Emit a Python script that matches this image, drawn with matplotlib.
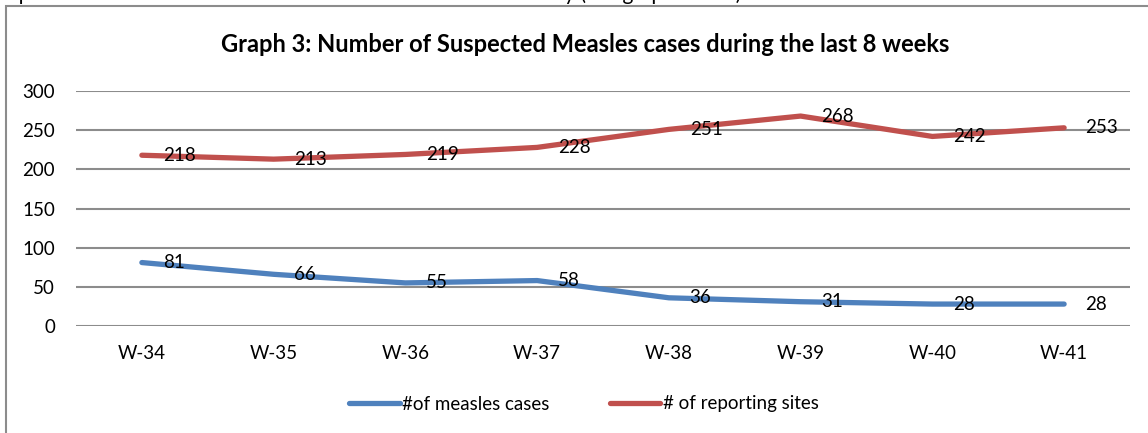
import matplotlib
matplotlib.use("Agg")
import matplotlib.pyplot as plt
from matplotlib.patches import Rectangle

weeks = ["W-34", "W-35", "W-36", "W-37", "W-38", "W-39", "W-40", "W-41"]
measles_cases = [81, 66, 55, 58, 36, 31, 28, 28]
reporting_sites = [218, 213, 219, 228, 251, 268, 242, 253]
yticks = [0, 50, 100, 150, 200, 250, 300]

plt.rcParams['font.family'] = ['Lato', 'DejaVu Sans']

W, H = 1148, 433
fig = plt.figure(figsize=(W / 100, H / 100), dpi=100)
fig.patch.set_facecolor('white')

# outer chart border (extends off the right/bottom edge)
fig.patches.append(Rectangle((6 / W, -0.2), 1.2, 1.2 - 6 / H, transform=fig.transFigure,
                             fill=False, edgecolor='#8c8c8c', linewidth=1.5))
# clipped text line above the chart
fig.text(0.0, 1.0 + 6 / H, "reported from the sentinel sites across all states of the country (see graph below)",
         fontsize=15, va='center', ha='left', color='black')

ax = fig.add_axes([76 / W, 1 - 326 / H, (1130 - 76) / W, (326 - 91) / H])
x = list(range(len(weeks)))
blue = '#4F81BD'
red = '#C0504D'
ax.plot(x, measles_cases, color=blue, lw=3.8, solid_capstyle='round', label='#of measles cases', zorder=3)
ax.plot(x, reporting_sites, color=red, lw=3.8, solid_capstyle='round', label='# of reporting sites', zorder=3)

for xi, v in zip(x, measles_cases):
    ax.annotate(str(v), (xi, v), xytext=(15, 0), textcoords='offset points',
                va='center', ha='left', fontsize=13.5, zorder=4)
for xi, v in zip(x, reporting_sites):
    ax.annotate(str(v), (xi, v), xytext=(15, 0), textcoords='offset points',
                va='center', ha='left', fontsize=13.5, zorder=4)

ax.set_xlim(-0.5, len(weeks) - 0.5)
ax.set_ylim(0, 300)
ax.set_yticks(yticks)
ax.set_xticks(x)
ax.set_xticklabels(weeks)
ax.grid(axis='y', color='#8c8c8c', lw=1.5)
ax.set_axisbelow(True)
for s in ax.spines.values():
    s.set_visible(False)
ax.tick_params(length=0, labelsize=13.5)
ax.tick_params(axis='y', pad=15)
ax.tick_params(axis='x', pad=14)

fig.text(585 / W, 1 - 45 / H, "Graph 3: Number of Suspected Measles cases during the last 8 weeks",
         ha='center', va='center', fontsize=17, fontweight='bold')

fig.legend(loc='center', bbox_to_anchor=(584 / W, 1 - 404 / H), ncol=2, frameon=False,
           fontsize=13.5, handlelength=2.7, columnspacing=3.2, handletextpad=0.15)

fig.savefig('out.png', dpi=100)
